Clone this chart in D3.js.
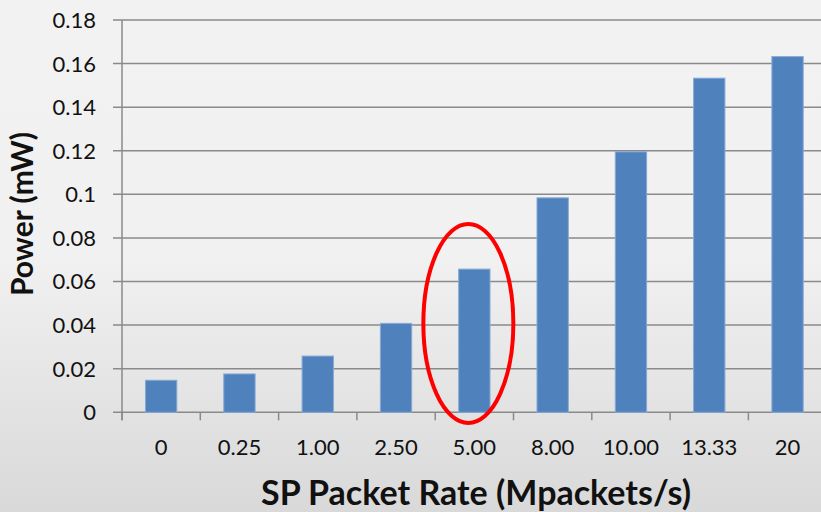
<!DOCTYPE html>
<html>
<head>
<meta charset="utf-8">
<script src="https://cdn.jsdelivr.net/npm/d3@7"></script>
<style>
  html, body { margin: 0; padding: 0; overflow: hidden; }
  svg { display: block; font-family: Lato, "Open Sans", sans-serif; }
</style>
</head>
<body>
<svg id="chart" width="821" height="512"></svg>
<script>
// data
var rates = ["0", "0.25", "1.00", "2.50", "5.00", "8.00", "10.00", "13.33", "20"];
var power = [0.0147, 0.0176, 0.0258, 0.0408, 0.0657, 0.0984, 0.1195, 0.1533, 0.1632];
var yTicks = [0, 0.02, 0.04, 0.06, 0.08, 0.1, 0.12, 0.14, 0.16, 0.18];
var highlight = "5.00";   // circled bar
var circleLow = -0.0049, circleHigh = 0.0864; // vertical extent of the red ellipse (mW)

(function () {
    var svg = d3.select("#chart");
    var width = 821, height = 512;

    var defs = svg.append("defs");
    var bg = defs.append("linearGradient")
        .attr("id", "bgGrad")
        .attr("x1", "0%").attr("y1", "0%")
        .attr("x2", "0%").attr("y2", "100%");
    bg.append("stop").attr("offset", "0%").style("stop-color", "#f2f2f2");
    bg.append("stop").attr("offset", "50%").style("stop-color", "#f1f1f1");
    bg.append("stop").attr("offset", "100%").style("stop-color", "#d9d9d9");

    svg.append("rect")
        .attr("width", width)
        .attr("height", height)
        .style("fill", "url(#bgGrad)");

    var plotLeft = 122, plotRight = 826.7, plotTop = 20, plotBottom = 412.3;

    var x = d3.scaleBand()
        .domain(rates)
        .range([plotLeft, plotRight])
        .paddingInner(0.6)
        .paddingOuter(0.3);

    var y = d3.scaleLinear()
        .domain([0, 0.18])
        .range([plotBottom, plotTop]);

    var step = x.step();
    var gridColor = "#8a8a8a";

    // gridlines + y tick marks
    svg.append("g").selectAll("line")
        .data(yTicks)
        .enter()
        .append("line")
        .attr("x1", plotLeft - 9)
        .attr("x2", width)
        .attr("y1", function (d) { return y(d); })
        .attr("y2", function (d) { return y(d); })
        .style("stroke", gridColor)
        .style("stroke-width", "1.5px");

    // y axis line
    svg.append("line")
        .attr("x1", plotLeft).attr("x2", plotLeft)
        .attr("y1", y(0.18)).attr("y2", plotBottom + 8)
        .style("stroke", gridColor)
        .style("stroke-width", "1.5px");

    // x tick marks at category boundaries
    svg.append("g").selectAll("line")
        .data(rates)
        .enter()
        .append("line")
        .attr("x1", function (d, i) { return plotLeft + i * step; })
        .attr("x2", function (d, i) { return plotLeft + i * step; })
        .attr("y1", plotBottom)
        .attr("y2", plotBottom + 8)
        .style("stroke", gridColor)
        .style("stroke-width", "1.5px");

    // y tick labels
    svg.append("g").selectAll("text")
        .data(yTicks)
        .enter()
        .append("text")
        .attr("x", 96)
        .attr("y", function (d) { return y(d); })
        .attr("dy", "0.36em")
        .attr("text-anchor", "end")
        .style("font-size", "22px")
        .style("fill", "#111")
        .text(function (d) { return d === 0 ? "0" : String(d); });

    // bars
    svg.append("g").selectAll("rect")
        .data(power)
        .enter()
        .append("rect")
        .attr("x", function (d, i) { return x(rates[i]); })
        .attr("width", x.bandwidth())
        .attr("y", function (d) { return y(d); })
        .attr("height", function (d) { return plotBottom - y(d); })
        .style("fill", "#4f81bd")
        .style("stroke", "#86a9d6")
        .style("stroke-width", "1px");

    // x tick labels
    svg.append("g").selectAll("text")
        .data(rates)
        .enter()
        .append("text")
        .attr("x", function (d) { return x(d) + x.bandwidth() / 2; })
        .attr("y", 455)
        .attr("text-anchor", "middle")
        .style("font-size", "22px")
        .style("fill", "#111")
        .text(function (d) { return d; });

    // axis titles
    svg.append("text")
        .attr("x", 476)
        .attr("y", 505)
        .attr("text-anchor", "middle")
        .style("font-size", "34px")
        .style("font-weight", "bold")
        .style("fill", "#111")
        .text("SP Packet Rate (Mpackets/s)");

    svg.append("text")
        .attr("transform", "translate(33,214) rotate(-90)")
        .attr("text-anchor", "middle")
        .style("font-size", "30px")
        .style("font-weight", "bold")
        .style("fill", "#111")
        .text("Power (mW)");

    // red ellipse around the 5.00 bar
    var cx = x(highlight) + x.bandwidth() / 2 - 6;
    svg.append("ellipse")
        .attr("cx", cx)
        .attr("cy", (y(circleLow) + y(circleHigh)) / 2)
        .attr("rx", 45)
        .attr("ry", (y(circleLow) - y(circleHigh)) / 2)
        .style("fill", "none")
        .style("stroke", "#ff0000")
        .style("stroke-width", "4px");
})();
</script>
</body>
</html>
